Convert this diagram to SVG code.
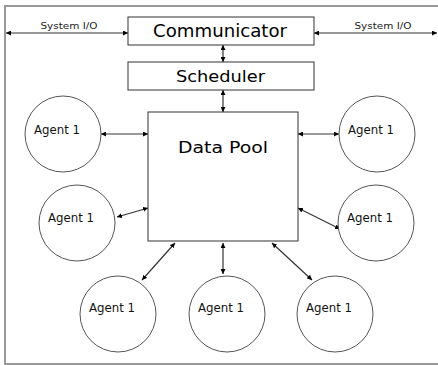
<svg xmlns="http://www.w3.org/2000/svg" width="438" height="365" viewBox="0 0 438 365">
  <style>
    .frame { fill: none; stroke: #999; stroke-width: 2; }
    .box { fill: #fff; stroke: #333; stroke-width: 1; }
    .agent { fill: #fff; stroke: #555; stroke-width: 1; }
    .link { stroke: #333; stroke-width: 1.2; fill: none; marker-start: url(#head); marker-end: url(#head); }
    .title { font-family: "DejaVu Sans", "Liberation Sans", sans-serif; fill: #000; }
    .small { font-family: "DejaVu Sans", "Liberation Sans", sans-serif; font-size: 9px; fill: #222; }
    .agent-label { font-family: "DejaVu Sans", "Liberation Sans", sans-serif; font-size: 12px; fill: #111; }
  </style>
  <defs>
    <marker id="head" viewBox="0 0 10 10" refX="10" refY="5" markerWidth="5" markerHeight="5" markerUnits="userSpaceOnUse" orient="auto-start-reverse">
      <path d="M0,0 L10,5 L0,10 z" fill="#000"/>
    </marker>
  </defs>

  <!-- outer frame: top, left and bottom edges -->
  <g id="frame">
    <path class="frame" d="M438,6 L5,6 L5,364 L438,364"/>
  </g>

  <g id="connectors">
    <line class="link" x1="6" y1="33" x2="128" y2="33"/>
    <line class="link" x1="314" y1="33" x2="437" y2="33"/>
    <line class="link" x1="223" y1="45" x2="223" y2="62"/>
    <line class="link" x1="223" y1="90" x2="223" y2="112"/>
    <line class="link" x1="101" y1="134" x2="148" y2="134"/>
    <line class="link" x1="117" y1="217" x2="148" y2="208"/>
    <line class="link" x1="298" y1="134" x2="339" y2="134"/>
    <line class="link" x1="298" y1="208" x2="340" y2="229"/>
    <line class="link" x1="175" y1="243" x2="142" y2="280"/>
    <line class="link" x1="223" y1="243" x2="223" y2="274"/>
    <line class="link" x1="272" y1="243" x2="312" y2="280"/>
  </g>

  <g id="io-labels">
    <text class="small" x="69" y="29" text-anchor="middle" textLength="57" lengthAdjust="spacingAndGlyphs">System I/O</text>
    <text class="small" x="383" y="29" text-anchor="middle" textLength="57" lengthAdjust="spacingAndGlyphs">System I/O</text>
  </g>

  <g id="communicator">
    <rect class="box" x="128" y="17" width="186" height="28"/>
    <text class="title" x="220" y="37" font-size="17" text-anchor="middle" textLength="134" lengthAdjust="spacingAndGlyphs">Communicator</text>
  </g>

  <g id="scheduler">
    <rect class="box" x="128" y="62" width="186" height="28"/>
    <text class="title" x="220.5" y="82" font-size="16" text-anchor="middle" textLength="89" lengthAdjust="spacingAndGlyphs">Scheduler</text>
  </g>

  <g id="data-pool">
    <rect class="box" x="148" y="112" width="150" height="129"/>
    <text class="title" x="223" y="153" font-size="16" text-anchor="middle" textLength="90" lengthAdjust="spacingAndGlyphs">Data Pool</text>
  </g>

  <g id="agent-left-1">
    <circle class="agent" cx="63" cy="134" r="38"/>
    <text class="agent-label" x="57" y="134" text-anchor="middle" textLength="46" lengthAdjust="spacingAndGlyphs">Agent 1</text>
  </g>
  <g id="agent-left-2">
    <circle class="agent" cx="77" cy="223" r="38"/>
    <text class="agent-label" x="71" y="222" text-anchor="middle" textLength="46" lengthAdjust="spacingAndGlyphs">Agent 1</text>
  </g>
  <g id="agent-right-1">
    <circle class="agent" cx="377" cy="134" r="38"/>
    <text class="agent-label" x="371" y="134" text-anchor="middle" textLength="46" lengthAdjust="spacingAndGlyphs">Agent 1</text>
  </g>
  <g id="agent-right-2">
    <circle class="agent" cx="376" cy="223" r="38"/>
    <text class="agent-label" x="370" y="222" text-anchor="middle" textLength="46" lengthAdjust="spacingAndGlyphs">Agent 1</text>
  </g>
  <g id="agent-bottom-1">
    <circle class="agent" cx="118" cy="314" r="38"/>
    <text class="agent-label" x="112" y="312" text-anchor="middle" textLength="46" lengthAdjust="spacingAndGlyphs">Agent 1</text>
  </g>
  <g id="agent-bottom-2">
    <circle class="agent" cx="227" cy="314" r="38"/>
    <text class="agent-label" x="221" y="312" text-anchor="middle" textLength="46" lengthAdjust="spacingAndGlyphs">Agent 1</text>
  </g>
  <g id="agent-bottom-3">
    <circle class="agent" cx="335" cy="314" r="38"/>
    <text class="agent-label" x="329" y="312" text-anchor="middle" textLength="46" lengthAdjust="spacingAndGlyphs">Agent 1</text>
  </g>
</svg>
